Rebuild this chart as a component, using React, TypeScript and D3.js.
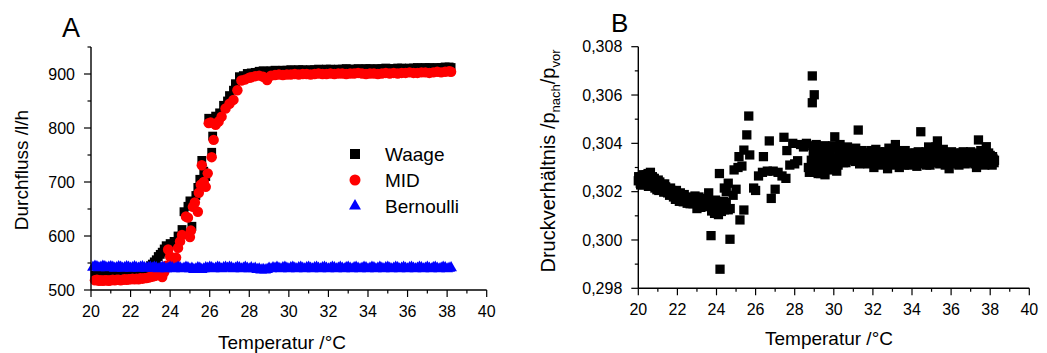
import React from "react";
import * as d3 from "d3";

// ---------- Data, panel A (Durchfluss vs Temperatur) ----------
const waage: [number, number][] = [
  [20.2, 527], [20.3, 528], [20.4, 526], [20.5, 527], [20.6, 527], [20.7, 528], [20.8, 526], [20.9, 527],
  [21.0, 527], [21.1, 528], [21.2, 528], [21.3, 527], [21.4, 527], [21.5, 528], [21.6, 528], [21.7, 529],
  [21.8, 529], [21.9, 530], [22.0, 529], [22.1, 530], [22.2, 530], [22.3, 531], [22.4, 531], [22.5, 532],
  [22.6, 532], [22.7, 533], [22.8, 535], [22.9, 540], [23.0, 545], [23.1, 548], [23.2, 552], [23.3, 556],
  [23.4, 562], [23.5, 566], [23.6, 570], [23.7, 576], [23.8, 582], [24.0, 586], [24.2, 590], [24.4, 600],
  [24.6, 612], [24.7, 645], [24.9, 655], [25.0, 665], [25.1, 618], [25.2, 660], [25.3, 675], [25.4, 690],
  [25.5, 705], [25.6, 740], [25.7, 720], [25.8, 710], [25.95, 818], [26.1, 755], [26.15, 785], [26.3, 822],
  [26.5, 828], [26.7, 842], [26.9, 850], [27.0, 860], [27.2, 870], [27.3, 882], [27.5, 895], [27.7, 897],
  [27.9, 901], [28.1, 902], [28.3, 903], [28.5, 905], [28.7, 906], [28.9, 905], [29.1, 906], [29.3, 907],
  [29.5, 906], [29.7, 907], [29.9, 907], [30.1, 908], [30.3, 907], [30.5, 908], [30.7, 908], [30.9, 907],
  [31.1, 908], [31.3, 908], [31.5, 909], [31.7, 908], [31.9, 909], [32.1, 909], [32.3, 908], [32.5, 909],
  [32.7, 909], [32.9, 910], [33.1, 909], [33.3, 909], [33.5, 910], [33.7, 909], [33.9, 910], [34.1, 910],
  [34.3, 909], [34.5, 910], [34.7, 910], [34.9, 911], [35.1, 910], [35.3, 910], [35.5, 911], [35.7, 911],
  [35.9, 910], [36.1, 911], [36.3, 911], [36.5, 912], [36.7, 911], [36.9, 912], [37.1, 912], [37.3, 911],
  [37.5, 912], [37.7, 912], [37.9, 913], [38.1, 913], [38.2, 912],
];

const mid: [number, number][] = [
  [20.2, 518], [20.3, 519], [20.4, 517], [20.5, 518], [20.6, 517], [20.7, 518], [20.8, 518], [20.9, 517],
  [21.0, 518], [21.1, 519], [21.2, 518], [21.3, 519], [21.4, 519], [21.5, 518], [21.6, 519], [21.7, 520],
  [21.8, 519], [21.9, 520], [22.0, 520], [22.1, 521], [22.2, 520], [22.3, 521], [22.4, 520], [22.5, 522],
  [22.6, 521], [22.7, 522], [22.8, 522], [22.9, 523], [23.0, 524], [23.1, 525], [23.2, 526], [23.3, 527],
  [23.4, 528], [23.5, 531], [23.6, 524], [23.7, 533], [23.8, 545], [23.9, 575], [24.0, 562], [24.2, 555],
  [24.3, 560], [24.4, 578], [24.5, 590], [24.6, 602], [24.8, 636], [24.9, 634], [25.0, 598], [25.05, 610],
  [25.15, 654], [25.25, 662], [25.4, 645], [25.45, 680], [25.55, 695], [25.6, 731], [25.7, 700], [25.8, 691],
  [25.9, 716], [25.95, 809], [26.05, 810], [26.1, 746], [26.2, 778], [26.3, 806], [26.45, 812], [26.6, 821],
  [26.8, 836], [27.0, 845], [27.2, 852], [27.4, 870], [27.6, 888], [27.8, 890], [28.0, 893], [28.1, 894],
  [28.3, 896], [28.5, 897], [28.7, 895], [28.9, 889], [29.1, 897], [29.3, 898], [29.5, 899], [29.7, 898],
  [29.9, 899], [30.1, 899], [30.3, 900], [30.5, 899], [30.7, 900], [30.9, 900], [31.1, 899], [31.3, 900],
  [31.5, 901], [31.7, 900], [31.9, 900], [32.1, 901], [32.3, 900], [32.5, 901], [32.7, 901], [32.9, 900],
  [33.1, 901], [33.3, 901], [33.5, 902], [33.7, 901], [33.9, 900], [34.1, 901], [34.3, 901], [34.5, 900],
  [34.7, 901], [34.9, 902], [35.1, 901], [35.3, 902], [35.5, 901], [35.7, 902], [35.9, 902], [36.1, 903],
  [36.3, 902], [36.5, 902], [36.7, 903], [36.9, 903], [37.1, 902], [37.3, 903], [37.5, 904], [37.7, 903],
  [37.9, 904], [38.1, 905], [38.2, 904],
];

const bernoulli: [number, number][] = [
  [20.1, 542], [20.2, 544], [20.3, 543], [20.4, 541], [20.5, 542], [20.6, 544], [20.7, 543], [20.8, 541],
  [20.9, 542], [21.0, 543], [21.1, 542], [21.2, 540], [21.3, 541], [21.4, 543], [21.5, 542], [21.6, 540],
  [21.7, 541], [21.8, 543], [21.9, 542], [22.0, 540], [22.1, 541], [22.2, 543], [22.3, 541], [22.4, 540],
  [22.5, 542], [22.6, 543], [22.7, 541], [22.8, 540], [22.9, 541], [23.0, 542], [23.1, 540], [23.2, 542],
  [23.3, 541], [23.4, 539], [23.5, 540], [23.6, 542], [23.7, 541], [23.8, 539], [23.9, 540], [24.0, 542],
  [24.1, 541], [24.2, 539], [24.3, 540], [24.4, 542], [24.5, 541], [24.6, 539], [24.7, 540], [24.8, 542],
  [24.9, 541], [25.0, 539], [25.1, 540], [25.2, 538], [25.3, 539], [25.4, 541], [25.5, 540], [25.6, 538],
  [25.7, 539], [25.8, 541], [25.9, 540], [26.0, 542], [26.1, 541], [26.2, 539], [26.3, 540], [26.4, 542],
  [26.5, 541], [26.6, 539], [26.7, 541], [26.8, 542], [26.9, 540], [27.0, 542], [27.1, 541], [27.2, 539],
  [27.3, 540], [27.4, 542], [27.5, 541], [27.6, 539], [27.7, 540], [27.8, 542], [27.9, 540], [28.0, 539],
  [28.1, 541], [28.2, 539], [28.3, 540], [28.4, 538], [28.5, 539], [28.6, 537], [28.7, 538], [28.8, 537],
  [28.9, 538], [29.0, 540], [29.1, 539], [29.2, 541], [29.3, 540], [29.4, 542], [29.5, 540], [29.6, 539],
  [29.7, 541], [29.8, 542], [29.9, 540], [30.0, 539], [30.1, 541], [30.2, 542], [30.3, 540], [30.4, 539],
  [30.5, 541], [30.6, 542], [30.7, 540], [30.8, 539], [30.9, 541], [31.0, 542], [31.1, 540], [31.2, 539],
  [31.3, 541], [31.4, 542], [31.5, 540], [31.6, 539], [31.7, 541], [31.8, 542], [31.9, 540], [32.0, 539],
  [32.1, 540], [32.2, 542], [32.3, 541], [32.4, 539], [32.5, 540], [32.6, 542], [32.7, 540], [32.8, 539],
  [32.9, 541], [33.0, 542], [33.1, 540], [33.2, 539], [33.3, 541], [33.4, 542], [33.5, 540], [33.6, 539],
  [33.7, 540], [33.8, 542], [33.9, 541], [34.0, 539], [34.1, 540], [34.2, 542], [34.3, 541], [34.4, 539],
  [34.5, 540], [34.6, 542], [34.7, 540], [34.8, 539], [34.9, 541], [35.0, 542], [35.1, 540], [35.2, 539],
  [35.3, 540], [35.4, 542], [35.5, 541], [35.6, 539], [35.7, 540], [35.8, 542], [35.9, 540], [36.0, 539],
  [36.1, 541], [36.2, 542], [36.3, 540], [36.4, 539], [36.5, 540], [36.6, 542], [36.7, 541], [36.8, 539],
  [36.9, 540], [37.0, 542], [37.1, 540], [37.2, 539], [37.3, 541], [37.4, 542], [37.5, 540], [37.6, 539],
  [37.7, 540], [37.8, 542], [37.9, 541], [38.0, 539], [38.1, 540], [38.2, 541],
];

// ---------- Data, panel B (Druckverhältnis vs Temperatur) ----------
const druck: [number, number][] = [
  [20.0, 0.30245], [20.05, 0.30255], [20.1, 0.30235], [20.15, 0.3026], [20.2, 0.30248], [20.25, 0.30228],
  [20.3, 0.30262], [20.35, 0.3024], [20.4, 0.3027], [20.45, 0.3025], [20.5, 0.30275], [20.55, 0.30232],
  [20.6, 0.30268], [20.65, 0.30245], [20.7, 0.30222], [20.75, 0.30255], [20.8, 0.30238], [20.85, 0.30215],
  [20.9, 0.30245], [21.0, 0.30225], [21.05, 0.30205], [21.1, 0.3024], [21.2, 0.30212], [21.25, 0.3023],
  [21.3, 0.30198], [21.4, 0.3022], [21.5, 0.30195], [21.55, 0.3021], [21.6, 0.30185], [21.7, 0.30205],
  [21.8, 0.30178], [21.85, 0.30198], [21.9, 0.30168], [22.0, 0.30188], [22.1, 0.3016], [22.2, 0.3018],
  [22.3, 0.30158], [22.4, 0.30172], [22.5, 0.30152], [22.6, 0.30178], [22.7, 0.30162], [22.8, 0.3015],
  [22.9, 0.30182], [23.0, 0.3013], [23.05, 0.30165], [23.15, 0.30148], [23.25, 0.3017], [23.3, 0.3014],
  [23.4, 0.3016], [23.5, 0.3015], [23.6, 0.30195], [23.65, 0.3014], [23.75, 0.3012], [23.8, 0.30158],
  [23.9, 0.3011], [23.95, 0.30165], [24.05, 0.3014], [24.1, 0.30105], [24.2, 0.3015], [24.3, 0.30135],
  [24.4, 0.30125], [24.5, 0.30155], [24.6, 0.30125], [24.7, 0.3013],
  [20.02, 0.30262], [20.12, 0.30228], [20.22, 0.3027], [20.32, 0.30232], [20.42, 0.30258], [20.52, 0.30222],
  [20.62, 0.3028], [20.72, 0.30262], [20.82, 0.30255], [20.95, 0.30208], [21.02, 0.30248], [21.15, 0.30225],
  [21.35, 0.30232], [21.45, 0.302], [21.65, 0.30215], [21.75, 0.30188], [21.95, 0.30205], [22.05, 0.30175],
  [22.15, 0.30195], [22.25, 0.30168], [22.35, 0.30188], [22.45, 0.3016], [22.55, 0.30165], [22.65, 0.3015],
  [22.75, 0.30175], [22.85, 0.30165], [22.95, 0.30155], [23.1, 0.30178], [23.2, 0.30135], [23.35, 0.30172],
  [23.45, 0.30138], [23.55, 0.30165], [23.7, 0.3015], [23.85, 0.30135], [24.0, 0.30155], [24.25, 0.30118],
  [24.35, 0.3016],
  [23.72, 0.30018], [24.18, 0.29879], [24.69, 0.30003], [24.15, 0.30275], [24.4, 0.30215], [24.6, 0.30235],
  [24.5, 0.302], [24.85, 0.30185], [24.9, 0.3029], [25.0, 0.3021], [25.15, 0.30345], [25.1, 0.303],
  [25.2, 0.30083], [25.3, 0.30306], [25.4, 0.30372], [25.4, 0.30124], [25.55, 0.30435], [25.65, 0.30513],
  [25.7, 0.30352], [25.9, 0.30215], [26.0, 0.30205], [26.15, 0.30265], [26.4, 0.30345], [26.35, 0.3028],
  [26.6, 0.30285], [26.7, 0.3041], [26.8, 0.30172], [26.9, 0.30285], [27.0, 0.3021], [27.15, 0.3028],
  [27.35, 0.30265], [27.45, 0.30425], [27.55, 0.30255], [27.6, 0.3037], [27.75, 0.3031], [27.9, 0.304],
  [28.0, 0.30315], [28.15, 0.30328], [28.3, 0.30395], [28.45, 0.30385], [28.6, 0.304], [28.7, 0.303],
  [28.75, 0.3028], [28.9, 0.30679], [29.0, 0.30601], [28.9, 0.30568], [28.85, 0.3033], [28.95, 0.30365],
  [29.0, 0.3028], [29.05, 0.3031], [29.1, 0.30395], [29.15, 0.30345], [29.2, 0.30275], [29.3, 0.3032],
  [29.35, 0.3038], [29.4, 0.30295], [29.5, 0.3034], [29.55, 0.3027], [29.6, 0.30375], [29.7, 0.3031],
  [29.8, 0.30345], [29.85, 0.3029], [29.95, 0.3039], [30.05, 0.30427], [30.1, 0.3033], [30.15, 0.30285],
  [30.25, 0.30365], [30.35, 0.3034], [30.4, 0.3038], [30.5, 0.3032], [30.6, 0.30355], [30.7, 0.30385],
  [30.8, 0.3034], [30.9, 0.3033], [31.0, 0.30365], [31.1, 0.30325], [31.25, 0.30455], [31.2, 0.3035],
  [31.35, 0.3034], [31.45, 0.3037], [31.55, 0.30325], [31.65, 0.3035], [31.75, 0.30315], [31.85, 0.3036],
  [31.95, 0.30335], [32.05, 0.303], [32.15, 0.30375], [32.25, 0.3034], [32.35, 0.3031], [32.45, 0.30355],
  [32.55, 0.3033], [32.65, 0.30365], [32.75, 0.30295], [32.85, 0.3034], [32.95, 0.3032], [33.05, 0.3036],
  [33.15, 0.30395], [33.25, 0.3033], [33.35, 0.303], [33.45, 0.30355], [33.55, 0.30325], [33.65, 0.3037],
  [33.75, 0.3034], [33.85, 0.3031], [33.95, 0.3035], [34.05, 0.3033], [34.15, 0.3036], [34.25, 0.30305],
  [34.35, 0.3034], [34.45, 0.30448], [34.55, 0.30325], [34.65, 0.30355], [34.75, 0.3031], [34.85, 0.30385],
  [34.95, 0.30345], [35.05, 0.3033], [35.15, 0.3037], [35.3, 0.3041], [35.25, 0.3032], [35.4, 0.30355],
  [35.5, 0.3033], [35.6, 0.30375], [35.7, 0.3031], [35.8, 0.3035], [35.9, 0.30295], [36.0, 0.3034],
  [36.1, 0.3032], [36.2, 0.30355], [36.3, 0.3033], [36.4, 0.3031], [36.5, 0.3036], [36.6, 0.3033],
  [36.7, 0.3035], [36.8, 0.3032], [36.9, 0.30345], [37.0, 0.30365], [37.1, 0.30325], [37.2, 0.3034],
  [37.3, 0.303], [37.4, 0.30414], [37.5, 0.30345], [37.6, 0.3032], [37.7, 0.3036], [37.8, 0.30386],
  [37.9, 0.30325], [38.0, 0.3035], [38.1, 0.3031], [38.15, 0.30335], [38.2, 0.3032],
  [28.82, 0.30295], [28.92, 0.3039], [29.02, 0.30345], [29.12, 0.303], [29.22, 0.3036], [29.32, 0.30275],
  [29.42, 0.3035], [29.52, 0.3039], [29.62, 0.30295], [29.72, 0.30365], [29.82, 0.303], [29.92, 0.3034],
  [30.02, 0.30305], [30.12, 0.3038], [30.22, 0.3031], [30.32, 0.30395], [30.42, 0.3034], [30.52, 0.30365],
  [30.62, 0.3032], [30.72, 0.30345], [30.82, 0.30375], [30.92, 0.30355], [31.02, 0.30335], [31.12, 0.3038],
  [31.32, 0.30315], [31.42, 0.30345], [31.52, 0.3036], [31.62, 0.3032], [31.72, 0.30345], [31.82, 0.30325],
  [31.92, 0.3037], [32.02, 0.30345], [32.12, 0.3032], [32.22, 0.30355], [32.32, 0.30365], [32.42, 0.3032],
  [32.52, 0.3035], [32.62, 0.30315], [32.72, 0.3035], [32.82, 0.3038], [32.92, 0.30345], [33.02, 0.3031],
  [33.12, 0.30345], [33.22, 0.3037], [33.32, 0.3034], [33.42, 0.3032], [33.52, 0.30365], [33.62, 0.3031],
  [33.72, 0.30355], [33.82, 0.3034], [33.92, 0.30325], [34.02, 0.3036], [34.12, 0.3032], [34.22, 0.3035],
  [34.32, 0.30365], [34.42, 0.30315], [34.52, 0.3035], [34.62, 0.3033], [34.72, 0.30365], [34.82, 0.30325],
  [34.92, 0.3031], [35.02, 0.30355], [35.12, 0.3032], [35.22, 0.30385], [35.32, 0.30345], [35.42, 0.30315],
  [35.52, 0.30365], [35.62, 0.3033], [35.72, 0.3036], [35.82, 0.3032], [35.92, 0.30345], [36.02, 0.30365],
  [36.12, 0.30345], [36.22, 0.30315], [36.32, 0.3036], [36.42, 0.30345], [36.52, 0.3032], [36.62, 0.30365],
  [36.72, 0.30315], [36.82, 0.30355], [36.92, 0.3032], [37.02, 0.3034], [37.12, 0.3036], [37.22, 0.30315],
  [37.32, 0.3035], [37.42, 0.3033], [37.52, 0.3037], [37.62, 0.30345], [37.72, 0.3031], [37.82, 0.30345],
  [37.92, 0.3036], [38.02, 0.3032], [38.12, 0.30345], [38.22, 0.3033],
];

const xTicksMajor = [20, 22, 24, 26, 28, 30, 32, 34, 36, 38, 40];
const yTicksA = [500, 600, 700, 800, 900];
const yTicksB = [0.298, 0.3, 0.302, 0.304, 0.306, 0.308];
const legendLabels = ["Waage", "MID", "Bernoulli"];

const FONT = "'Liberation Sans', Arial, Helvetica, sans-serif";

const sqPath = d3.symbol(d3.symbolSquare, 78)()!;
const sqPathB = d3.symbol(d3.symbolSquare, 86)()!;
const circPath = d3.symbol(d3.symbolCircle, 86)()!;
const triPath = d3.symbol(d3.symbolTriangle, 60)()!;

type Lin = d3.ScaleLinear<number, number>;

function XAxis({ x, y0, minor }: { x: Lin; y0: number; minor: number[] }) {
  const [r0, r1] = x.range();
  return (
    <g>
      <line x1={r0} x2={r1} y1={y0} y2={y0} stroke="#000" strokeWidth={1.4} />
      {minor.map((t) => (
        <line key={"m" + t} x1={x(t)} x2={x(t)} y1={y0} y2={y0 + 3.5} stroke="#000" strokeWidth={1.2} />
      ))}
      {xTicksMajor.map((t) => (
        <g key={t}>
          <line x1={x(t)} x2={x(t)} y1={y0} y2={y0 + 7} stroke="#000" strokeWidth={1.2} />
          <text x={x(t)} y={y0 + 27} textAnchor="middle" fontSize={16} fontFamily={FONT}>
            {t}
          </text>
        </g>
      ))}
    </g>
  );
}

function YAxis({ y, x0, major, minor, fmt }: { y: Lin; x0: number; major: number[]; minor: number[]; fmt: (v: number) => string }) {
  const [r0, r1] = y.range();
  return (
    <g>
      <line x1={x0} x2={x0} y1={r0} y2={r1} stroke="#000" strokeWidth={1.4} />
      {minor.map((t) => (
        <line key={"m" + t} x1={x0 - 3.5} x2={x0} y1={y(t)} y2={y(t)} stroke="#000" strokeWidth={1.2} />
      ))}
      {major.map((t) => (
        <g key={t}>
          <line x1={x0 - 7} x2={x0} y1={y(t)} y2={y(t)} stroke="#000" strokeWidth={1.2} />
          <text x={x0 - 16} y={y(t) + 5.7} textAnchor="end" fontSize={16} fontFamily={FONT}>
            {fmt(t)}
          </text>
        </g>
      ))}
    </g>
  );
}

export default function App() {
  const xA = d3.scaleLinear().domain([20, 40]).range([91, 486.7]);
  const yA = d3.scaleLinear().domain([500, 950]).range([290, 47]);
  const xB = d3.scaleLinear().domain([20, 40]).range([638.3, 1029.3]);
  const yB = d3.scaleLinear().domain([0.298, 0.308]).range([288.3, 46.7]);

  const xMinor = d3.range(21, 40, 2);
  const yMinorA = [550, 650, 750, 850, 950];
  const yMinorB = [0.299, 0.301, 0.303, 0.305, 0.307];
  const fmtB = (v: number) => d3.format(".3f")(v).replace(".", ",");

  return (
    <svg
      width={1047}
      height={353}
      style={{ position: "absolute", left: 0, top: 0, background: "#fff" }}
      fontFamily={FONT}
    >
      <rect width={1047} height={353} fill="#fff" />
      {/* Panel A */}
      <text x={62} y={37} fontSize={27} fontFamily={FONT}>A</text>
      <g>
        {waage.map(([t, v], i) => (
          <path key={"w" + i} d={sqPath} transform={`translate(${xA(t)},${yA(v)})`} fill="#000" />
        ))}
        {mid.map(([t, v], i) => (
          <path key={"m" + i} d={circPath} transform={`translate(${xA(t)},${yA(v)})`} fill="#ff0000" />
        ))}
        {bernoulli.map(([t, v], i) => (
          <path key={"b" + i} d={triPath} transform={`translate(${xA(t)},${yA(v)})`} fill="#0000ff" />
        ))}
      </g>
      <XAxis x={xA} y0={290} minor={xMinor} />
      <YAxis y={yA} x0={91} major={yTicksA} minor={yMinorA} fmt={(v) => String(v)} />
      <text x={282} y={349} textAnchor="middle" fontSize={19} fontFamily={FONT}>Temperatur /°C</text>
      <text transform="translate(28,170) rotate(-90)" textAnchor="middle" fontSize={19} fontFamily={FONT}>
        Durchfluss /l/h
      </text>
      {/* Legend */}
      <g>
        <path d={d3.symbol(d3.symbolSquare, 100)()!} transform="translate(355,154)" fill="#000" />
        <path d={d3.symbol(d3.symbolCircle, 95)()!} transform="translate(355,180)" fill="#ff0000" />
        <path d={d3.symbol(d3.symbolTriangle, 62)()!} transform="translate(355,206)" fill="#0000ff" />
        {legendLabels.map((l, i) => (
          <text key={l} x={385} y={160.5 + i * 26} fontSize={19} fontFamily={FONT}>
            {l}
          </text>
        ))}
      </g>

      {/* Panel B */}
      <text x={611} y={31.5} fontSize={26} fontFamily={FONT}>B</text>
      <g>
        {druck.map(([t, v], i) => (
          <path key={"d" + i} d={sqPathB} transform={`translate(${xB(t)},${yB(v)})`} fill="#000" />
        ))}
      </g>
      <XAxis x={xB} y0={288.3} minor={xMinor} />
      <YAxis y={yB} x0={638.3} major={yTicksB} minor={yMinorB} fmt={fmtB} />
      <text x={829} y={345} textAnchor="middle" fontSize={19} fontFamily={FONT}>Temperatur /°C</text>
      <text transform="translate(555,161) rotate(-90)" textAnchor="middle" fontSize={20} fontFamily={FONT}>
        Druckverhältnis /p
        <tspan fontSize={13} dy={5}>nach</tspan>
        <tspan dy={-5}>/p</tspan>
        <tspan fontSize={13} dy={5}>vor</tspan>
      </text>
    </svg>
  );
}
